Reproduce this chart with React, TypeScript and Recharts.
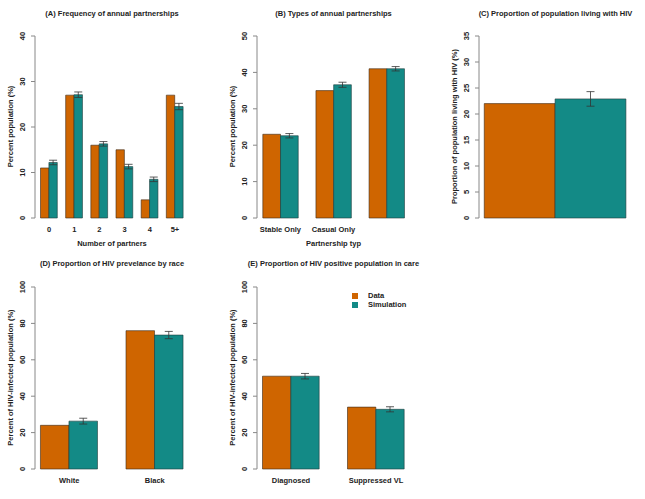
import { BarChart, Bar, XAxis, YAxis, ErrorBar, Legend } from 'recharts'

// (A) frequency of annual partnerships
const partnerCats = ['0', '1', '2', '3', '4', '5+']
const partnerData = [11, 27, 16, 15, 4, 27]
const partnerSim = [12.2, 27.1, 16.3, 11.3, 8.5, 24.5]
const partnerErr = [0.5, 0.6, 0.5, 0.5, 0.5, 0.7]

// (B) types of annual partnerships
const typeCats = ['Stable Only', 'Casual Only', '']
const typeData = [23, 35, 41]
const typeSim = [22.6, 36.6, 41]
const typeErr = [0.6, 0.7, 0.6]

// (C) proportion living with HIV
const prevCats = ['']
const prevData = [22]
const prevSim = [22.9]
const prevErr = [1.4]

// (D) HIV prevalence by race
const raceCats = ['White', 'Black']
const raceData = [24, 76]
const raceSim = [26.3, 73.6]
const raceErr = [1.6, 2.0]

// (E) HIV positive population in care
const careCats = ['Diagnosed', 'Suppressed VL']
const careData = [51, 34]
const careSim = [51, 32.8]
const careErr = [1.5, 1.4]

const ORANGE = '#CF6500'
const TEAL = '#138A86'
const FONT = '"Liberation Sans", Arial, sans-serif'
const INK = '#222'

interface PanelProps {
  left: number
  top: number
  plot: { l: number; r: number; t: number; b: number }
  cats: string[]
  data: number[]
  sim: number[]
  err: number[]
  yTicks: number[]
  title: string
  xTitle?: string
  yTitle: string
  legend?: boolean
}

const W = 215
const H = 250

function YTick({ x, y, payload }: any) {
  const tx = x - 4
  return (
    <text
      x={tx}
      y={y}
      transform={`rotate(-90 ${tx} ${y})`}
      textAnchor="middle"
      fontFamily={FONT}
      fontSize={7.5}
      fontWeight="bold"
      fill={INK}
    >
      {payload.value}
    </text>
  )
}

function XTick({ x, y, payload }: any) {
  return (
    <text x={x} y={y + 14} textAnchor="middle" fontFamily={FONT} fontSize={7.5} fontWeight="bold" fill={INK}>
      {payload.value}
    </text>
  )
}

function LegendBox() {
  const items = [
    { name: 'Data', color: ORANGE },
    { name: 'Simulation', color: TEAL },
  ]
  return (
    <div style={{ fontFamily: FONT, fontSize: 7.5, fontWeight: 'bold', color: INK }}>
      {items.map((it) => (
        <div key={it.name} style={{ display: 'flex', alignItems: 'center', height: 9 }}>
          <div style={{ width: 6, height: 6, background: it.color, marginRight: 10 }} />
          <span>{it.name}</span>
        </div>
      ))}
    </div>
  )
}

function Panel({ left, top, plot, cats, data, sim, err, yTicks, title, xTitle, yTitle, legend }: PanelProps) {
  const rows = cats.map((c, i) => ({ cat: c, data: data[i], sim: sim[i], err: err[i] }))
  const n = cats.length
  const plotW = plot.r - plot.l
  // R barplot geometry: bar width 1, gap 1 between groups, 4% axis extension
  const unit = plotW / ((3 * n - 1) * 1.08)
  const pad = (plotW - 3 * n * unit) / 2
  const yMax = yTicks[yTicks.length - 1]
  const cx = (plot.l + plot.r) / 2
  const cy = (plot.t + plot.b) / 2

  return (
    <div style={{ position: 'absolute', left, top, width: W, height: H }}>
      <BarChart
        width={W}
        height={H}
        data={rows}
        margin={{ top: plot.t, right: W - plot.r, bottom: 0, left: 0 }}
        barGap={0}
        barSize={unit}
      >
        <XAxis
          dataKey="cat"
          height={H - plot.b}
          axisLine={false}
          tickLine={false}
          tickSize={0}
          tickMargin={0}
          padding={{ left: pad, right: pad }}
          tick={<XTick />}
          interval={0}
        />
        <YAxis
          width={plot.l}
          domain={[0, yMax]}
          ticks={yTicks}
          axisLine={{ stroke: '#888', strokeWidth: 1 }}
          tickLine={{ stroke: '#888', strokeWidth: 1 }}
          tickSize={4}
          tick={<YTick />}
          interval={0}
        />
        <Bar dataKey="data" name="Data" fill={ORANGE} stroke="#3a2a1a" strokeWidth={0.6} isAnimationActive={false} />
        <Bar dataKey="sim" name="Simulation" fill={TEAL} stroke="#1f3a3a" strokeWidth={0.6} isAnimationActive={false}>
          <ErrorBar dataKey="err" width={4} stroke="#333" strokeWidth={0.8} direction="y" />
        </Bar>
        {legend && (
          <Legend
            layout="horizontal"
            verticalAlign="middle"
            align="center"
            content={<LegendBox />}
            wrapperStyle={{ position: 'absolute', left: 137, top: 41, width: 70, height: 18 }}
          />
        )}
      </BarChart>
      <div
        style={{
          position: 'absolute',
          left: cx - 120,
          width: 240,
          top: 9,
          textAlign: 'center',
          fontFamily: FONT,
          fontSize: 7.5,
          fontWeight: 'bold',
          color: INK,
          whiteSpace: 'nowrap',
        }}
      >
        {title}
      </div>
      {xTitle && (
        <div
          style={{
            position: 'absolute',
            left: cx - 100,
            width: 200,
            top: H - 11,
            textAlign: 'center',
            fontFamily: FONT,
            fontSize: 7.5,
            fontWeight: 'bold',
            color: INK,
          }}
        >
          {xTitle}
        </div>
      )}
      <div
        style={{
          position: 'absolute',
          left: plot.l - 25 - 100,
          width: 200,
          top: cy - 5,
          textAlign: 'center',
          fontFamily: FONT,
          fontSize: 7.5,
          fontWeight: 'bold',
          color: INK,
          transform: 'rotate(-90deg)',
          whiteSpace: 'nowrap',
        }}
      >
        {yTitle}
      </div>
    </div>
  )
}

export default function App() {
  return (
    <div style={{ position: 'absolute', left: 0, top: 0, width: 645, height: 499, background: '#fff' }}>
      <Panel
        left={0}
        top={0}
        plot={{ l: 35, r: 189, t: 36, b: 218 }}
        cats={partnerCats}
        data={partnerData}
        sim={partnerSim}
        err={partnerErr}
        yTicks={[0, 10, 20, 30, 40]}
        title="(A) Frequency of annual partnerships"
        xTitle="Number of partners"
        yTitle="Percent population (%)"
      />
      <Panel
        left={215}
        top={0}
        plot={{ l: 42, r: 195, t: 36, b: 218 }}
        cats={typeCats}
        data={typeData}
        sim={typeSim}
        err={typeErr}
        yTicks={[0, 10, 20, 30, 40, 50]}
        title="(B) Types of annual partnerships"
        xTitle="Partnership typ"
        yTitle="Percent population (%)"
      />
      <Panel
        left={430}
        top={0}
        plot={{ l: 49, r: 202, t: 36, b: 218 }}
        cats={prevCats}
        data={prevData}
        sim={prevSim}
        err={prevErr}
        yTicks={[0, 5, 10, 15, 20, 25, 30, 35]}
        title="(C) Proportion of population living with HIV"
        yTitle="Proportion of population living with HIV (%)"
      />
      <Panel
        left={0}
        top={250}
        plot={{ l: 35, r: 189, t: 37, b: 219 }}
        cats={raceCats}
        data={raceData}
        sim={raceSim}
        err={raceErr}
        yTicks={[0, 20, 40, 60, 80, 100]}
        title="(D) Proportion of HIV prevelance by race"
        yTitle="Percent of HIV-infected population (%)"
      />
      <Panel
        left={215}
        top={250}
        plot={{ l: 42, r: 195, t: 37, b: 219 }}
        cats={careCats}
        data={careData}
        sim={careSim}
        err={careErr}
        yTicks={[0, 20, 40, 60, 80, 100]}
        title="(E) Proportion of HIV positive population in care"
        yTitle="Percent of HIV-infected population (%)"
        legend
      />
    </div>
  )
}
